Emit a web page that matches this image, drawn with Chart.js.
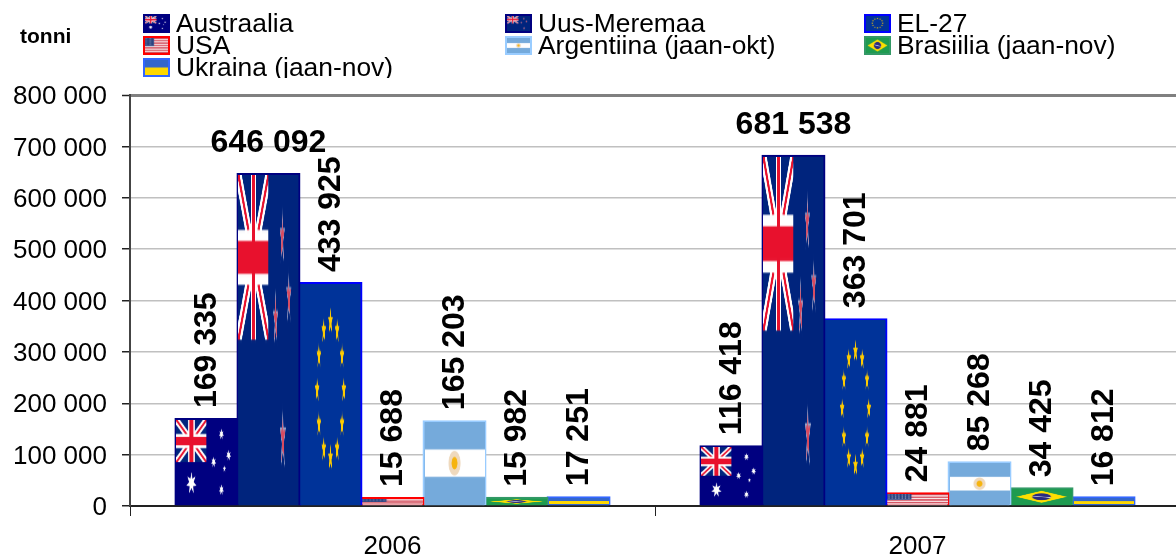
<!DOCTYPE html>
<html>
<head>
<meta charset="utf-8">
<title>Tonni</title>
<script src="https://cdn.jsdelivr.net/npm/chart.js@4/dist/chart.umd.js"></script>
<style>
  html, body { margin: 0; padding: 0; background: #fff; width: 1176px; height: 556px; overflow: hidden; }
  canvas { display: block; }
</style>
</head>
<body>
<canvas id="chart" width="1182" height="556"></canvas>
<script>
const years = ['2006', '2007'];
const australia = [169335, 116418];
const newZealand = [646092, 681538];
const eu27 = [433925, 363701];
const usa = [15688, 24881];
const argentina = [165203, 85268];
const brazil = [15982, 34425];
const ukraine = [17251, 16812];
const seriesNames = ['Austraalia', 'Uus-Meremaa', 'EL-27', 'USA', 'Argentiina (jaan-okt)', 'Brasiilia (jaan-nov)', 'Ukraina (jaan-nov)'];
const yTicks = [0, 100000, 200000, 300000, 400000, 500000, 600000, 700000, 800000];

const FONT = '"Liberation Sans", Arial, sans-serif';

const starPath = (ctx, cx, cy, r, points, inner) => {
    ctx.beginPath();
    for (let i = 0; i < points * 2; i++) {
        const rad = i % 2 ? r * inner : r;
        const a = -Math.PI / 2 + i * Math.PI / points;
        ctx.lineTo(cx + Math.cos(a) * rad, cy + Math.sin(a) * rad);
    }
    ctx.closePath();
};

const unionJack = (ctx, w, h) => {
    ctx.save();
    ctx.beginPath();
    ctx.rect(0, 0, w, h);
    ctx.clip();
    ctx.fillStyle = '#00247d';
    ctx.fillRect(0, 0, w, h);
    const diag = (color, width) => {
        ctx.strokeStyle = color;
        ctx.lineWidth = width;
        ctx.beginPath();
        ctx.moveTo(0, 0); ctx.lineTo(w, h);
        ctx.moveTo(w, 0); ctx.lineTo(0, h);
        ctx.stroke();
    };
    diag('#fff', h / 5);
    diag('#e8112d', h / 15);
    ctx.fillStyle = '#fff';
    ctx.fillRect(w / 2 - h / 6, 0, h / 3, h);
    ctx.fillRect(0, h / 2 - h / 6, w, h / 3);
    ctx.fillStyle = '#e8112d';
    ctx.fillRect(w / 2 - h / 10, 0, h / 5, h);
    ctx.fillRect(0, h / 2 - h / 10, w, h / 5);
    ctx.restore();
};

// Each flag is painted once on its own canvas, then stretched into the bars
const makeFlag = (w, h, paint) => {
    const c = document.createElement('canvas');
    c.width = w;
    c.height = h;
    paint(c.getContext('2d'), w, h);
    return c;
};

const flags = [
    makeFlag(300, 200, (ctx, w, h) => {
        ctx.fillStyle = '#000080';
        ctx.fillRect(0, 0, w, h);
        unionJack(ctx, w / 2, h / 2);
        ctx.fillStyle = '#fff';
        starPath(ctx, w * 0.25, h * 0.75, 26, 7, 0.45); ctx.fill();
        [[0.75, 0.17], [0.62, 0.5], [0.75, 0.83], [0.87, 0.42]].forEach(([x, y]) => {
            starPath(ctx, w * x, h * y, 13, 7, 0.45); ctx.fill();
        });
        starPath(ctx, w * 0.8, h * 0.58, 8, 5, 0.45); ctx.fill();
    }),
    makeFlag(300, 150, (ctx, w, h) => {
        ctx.fillStyle = '#00247d';
        ctx.fillRect(0, 0, w, h);
        unionJack(ctx, w / 2, h / 2);
        [[0.73, 0.19, 12], [0.84, 0.37, 12], [0.62, 0.44, 12], [0.74, 0.8, 14]].forEach(([x, y, r]) => {
            ctx.fillStyle = '#9aa6cc';
            starPath(ctx, w * x, h * y, r + 2, 5, 0.38); ctx.fill();
            ctx.fillStyle = '#d84a60';
            starPath(ctx, w * x, h * y, r - 1, 5, 0.34); ctx.fill();
        });
    }),
    makeFlag(300, 200, (ctx, w, h) => {
        ctx.fillStyle = '#003399';
        ctx.fillRect(0, 0, w, h);
        ctx.fillStyle = '#ffcc00';
        for (let i = 0; i < 12; i++) {
            const a = i * Math.PI / 6;
            starPath(ctx, w / 2 + Math.cos(a) * h / 3, h * 0.48 + Math.sin(a) * h * 0.31, h / 16, 5, 0.42);
            ctx.fill();
        }
    }),
    makeFlag(285, 150, (ctx, w, h) => {
        for (let i = 0; i < 13; i++) {
            ctx.fillStyle = i % 2 ? '#fff' : '#cc3344';
            ctx.fillRect(0, i * h / 13, w, h / 13 + 0.5);
        }
        ctx.fillStyle = '#223a7a';
        ctx.fillRect(0, 0, w * 0.4, h * 7 / 13);
        ctx.fillStyle = '#fff';
        for (let r = 0; r < 5; r++) {
            for (let c = 0; c < 7; c++) {
                ctx.fillRect(6 + c * 15.5, 6 + r * 14, 5, 5);
            }
        }
    }),
    makeFlag(300, 200, (ctx, w, h) => {
        ctx.fillStyle = '#75aadb';
        ctx.fillRect(0, 0, w, h);
        ctx.fillStyle = '#fff';
        ctx.fillRect(0, h / 3, w, h / 3);
        ctx.fillStyle = '#efd9bd';
        ctx.beginPath();
        ctx.ellipse(w / 2, h / 2, 30, 30, 0, 0, Math.PI * 2);
        ctx.fill();
        ctx.fillStyle = '#f6b40e';
        ctx.beginPath();
        ctx.ellipse(w / 2, h / 2, 15, 15, 0, 0, Math.PI * 2);
        ctx.fill();
    }),
    makeFlag(300, 200, (ctx, w, h) => {
        ctx.fillStyle = '#1e9b50';
        ctx.fillRect(0, 0, w, h);
        ctx.fillStyle = '#fedf00';
        ctx.beginPath();
        ctx.moveTo(w * 0.08, h / 2);
        ctx.lineTo(w / 2, h * 0.1);
        ctx.lineTo(w * 0.92, h / 2);
        ctx.lineTo(w / 2, h * 0.9);
        ctx.closePath();
        ctx.fill();
        ctx.fillStyle = '#2a2a80';
        ctx.beginPath();
        ctx.arc(w / 2, h / 2, h * 0.23, 0, Math.PI * 2);
        ctx.fill();
        ctx.strokeStyle = '#fff';
        ctx.lineWidth = 6;
        ctx.beginPath();
        ctx.moveTo(w / 2 - h * 0.22, h * 0.46);
        ctx.lineTo(w / 2 + h * 0.22, h * 0.55);
        ctx.stroke();
    }),
    makeFlag(300, 200, (ctx, w, h) => {
        ctx.fillStyle = '#3366cc';
        ctx.fillRect(0, 0, w, h / 2);
        ctx.fillStyle = '#ffd800';
        ctx.fillRect(0, h / 2, w, h / 2);
    })
];

const barFills = ['#000080', '#00247d', '#003399', '#e8a0a8', '#75aadb', '#1e9b50', '#3366cc'];
const barBorders = ['#000080', '#000080', '#0000ff', '#ff0000', '#99ccff', '#339966', '#3366ff'];
const seriesValues = [australia, newZealand, eu27, usa, argentina, brazil, ukraine];

const formatValue = (v) => String(v).replace(/\B(?=(\d{3})+$)/g, ' ');

// Paints the flag inside each bar, right after that dataset, so later bars overlap earlier ones
const flagBars = {
    id: 'flagBars',
    afterDatasetDraw(chart, args) {
        const { ctx } = chart;
        const i = args.index;
        chart.getDatasetMeta(i).data.forEach((bar) => {
            const { x, y, base, width } = bar.getProps(['x', 'y', 'base', 'width'], true);
            ctx.save();
            ctx.imageSmoothingQuality = 'high';
            ctx.drawImage(flags[i], x - width / 2 + 1, y + 1, width - 2, base - y - 2);
            ctx.restore();
        });
    }
};

// Bold value labels: rotated, except for Uus-Meremaa which sits flat
const valueLabels = {
    id: 'valueLabels',
    afterDatasetsDraw(chart) {
        const { ctx } = chart;
        ctx.save();
        ctx.fillStyle = '#000';
        ctx.font = `bold 32px ${FONT}`;
        chart.data.datasets.forEach((ds, i) => {
            chart.getDatasetMeta(i).data.forEach((bar, j) => {
                const { x, y } = bar.getProps(['x', 'y'], true);
                const text = formatValue(ds.data[j]);
                if (i === 1) {
                    ctx.textAlign = 'center';
                    ctx.textBaseline = 'alphabetic';
                    ctx.fillText(text, x, y - 22);
                } else {
                    ctx.save();
                    ctx.translate(x, y - 11);
                    ctx.rotate(-Math.PI / 2);
                    ctx.textAlign = 'left';
                    ctx.textBaseline = 'middle';
                    ctx.fillText(text, 0, 1);
                    ctx.restore();
                }
            });
        });
        ctx.restore();
    }
};

// Three column legend with the flags as keys; the last row is cut off as in the original
const legendColumns = [143, 505, 864];
const legendRows = [32, 54, 76];
const flagLegend = {
    id: 'flagLegend',
    afterDraw(chart) {
        const { ctx } = chart;
        ctx.save();
        ctx.beginPath();
        ctx.rect(0, 0, chart.width, 78);
        ctx.clip();
        ctx.textAlign = 'left';
        ctx.textBaseline = 'alphabetic';
        ctx.font = `26.4px ${FONT}`;
        seriesNames.forEach((name, i) => {
            const x = legendColumns[i % 3];
            const y = legendRows[Math.floor(i / 3)];
            ctx.fillStyle = barBorders[i];
            ctx.fillRect(x, y - 18, 27, 19);
            ctx.imageSmoothingQuality = 'high';
            ctx.drawImage(flags[i], x + 2, y - 16, 23, 15);
            ctx.fillStyle = '#000';
            ctx.fillText(name, x + 33, y);
        });
        ctx.restore();
        ctx.save();
        ctx.fillStyle = '#000';
        ctx.font = `bold 21px ${FONT}`;
        ctx.textAlign = 'left';
        ctx.fillText('tonni', 20, 43);
        ctx.restore();
    }
};

new Chart(document.getElementById('chart'), {
    type: 'bar',
    data: {
        labels: years,
        datasets: seriesValues.map((data, i) => ({
            label: seriesNames[i],
            data,
            backgroundColor: barFills[i],
            borderColor: barBorders[i],
            borderWidth: 2,
            inflateAmount: 1,
            barPercentage: 1,
            categoryPercentage: 0.827
        }))
    },
    options: {
        responsive: false,
        animation: false,
        devicePixelRatio: 1,
        layout: { padding: { top: 95, right: 2, left: 0, bottom: 0 } },
        plugins: { legend: { display: false }, title: { display: false }, tooltip: { enabled: false } },
        scales: {
            x: {
                afterFit: (scale) => { scale.height = 50; },
                border: { color: '#222', width: 2 },
                grid: { drawOnChartArea: false, tickLength: 10, tickColor: '#222', offset: true },
                ticks: { color: '#000', font: { family: FONT, size: 26 }, padding: 15, maxRotation: 0, autoSkip: false }
            },
            y: {
                min: 0,
                max: 800000,
                afterFit: (scale) => { scale.width = 130; },
                afterBuildTicks: (scale) => { scale.ticks = yTicks.map((value) => ({ value })); },
                border: { color: '#444', width: 2 },
                grid: {
                    color: (c) => (c.tick.value === 800000 ? '#808080' : '#c0c0c0'),
                    lineWidth: (c) => (c.tick.value === 800000 ? 3 : 1.5),
                    tickColor: '#222',
                    tickLength: 8,
                    tickWidth: 1.5
                },
                ticks: {
                    color: '#000',
                    font: { family: FONT, size: 26 },
                    padding: 15,
                    labelOffset: 2,
                    callback: (v) => formatValue(v)
                }
            }
        }
    },
    plugins: [flagBars, valueLabels, flagLegend]
});
</script>
</body>
</html>
